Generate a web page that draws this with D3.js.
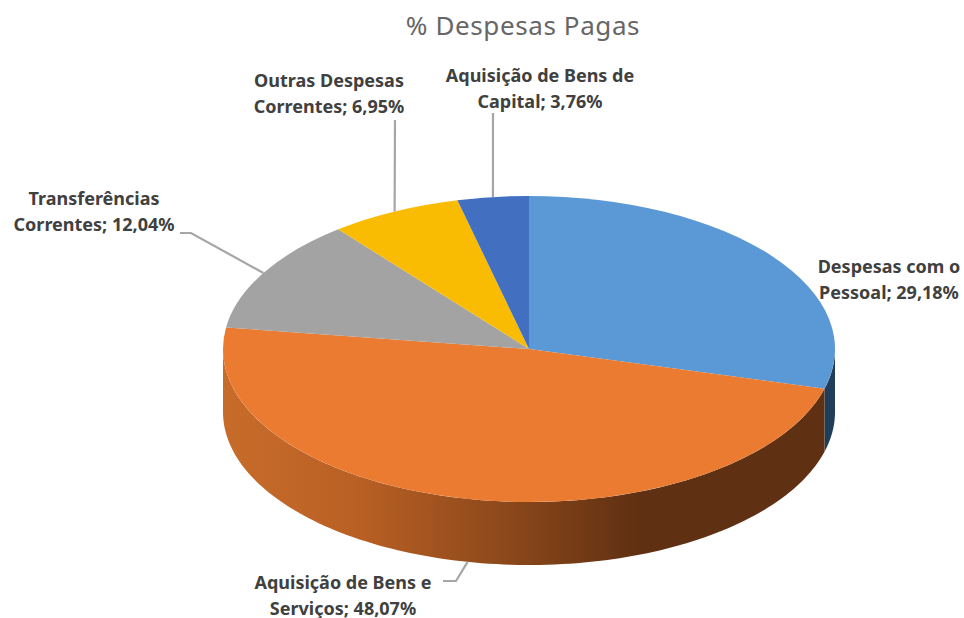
<!DOCTYPE html>
<html>
<head>
<meta charset="utf-8">
<script src="https://cdn.jsdelivr.net/npm/d3@7"></script>
<style>
  html, body { margin: 0; padding: 0; background: white; }
  svg { display: block; }
  .label { font-family: "Noto Sans", sans-serif; font-weight: 700; font-size: 18px; fill: #404040; }
  .title { font-family: "Noto Sans", sans-serif; font-size: 26px; fill: #666666; letter-spacing: 0.6px; }
</style>
</head>
<body>
<div id="my_dataviz"></div>
<script>
// data
var categories = ["Despesas com o Pessoal", "Aquisição de Bens e Serviços", "Transferências Correntes", "Outras Despesas Correntes", "Aquisição de Bens de Capital"];
var percents = [29.18, 48.07, 12.04, 6.95, 3.76];
var labelLines = [
  ["Despesas com o", "Pessoal; 29,18%"],
  ["Aquisição de Bens e", "Serviços; 48,07%"],
  ["Transferências", "Correntes; 12,04%"],
  ["Outras Despesas", "Correntes; 6,95%"],
  ["Aquisição de Bens de", "Capital; 3,76%"]
];
var colors = ["#5a99d5", "#ea7b30", "#a3a3a3", "#fabc02", "#426fbf"];

var width = 964, height = 618;
var cx = 529, cy = 349, rx = 306, ry = 153, depth = 63;

// where the labels sit, and the elbow of each leader (null = no leader)
var labelPos = [
  {x: 889, y: 273},
  {x: 343, y: 589},
  {x: 94, y: 205},
  {x: 329, y: 87},
  {x: 540, y: 82}
];
var leaders = [
  null,
  {elbow: [456, 581], end: [443, 581]},
  {elbow: [191, 233], end: [180, 233]},
  {elbow: [395, 120], end: null},
  {elbow: [493, 113], end: null}
];

var svg = d3.select("#my_dataviz")
  .append("svg")
    .attr("width", width)
    .attr("height", height);

var defs = svg.append("defs");

// shaded wall of the orange slice
var grad = defs.append("linearGradient")
    .attr("id", "wallOrange")
    .attr("gradientUnits", "userSpaceOnUse")
    .attr("x1", cx - rx).attr("x2", cx + rx)
    .attr("y1", 0).attr("y2", 0);
grad.append("stop").attr("offset", "0%").attr("stop-color", "#c76c2a");
grad.append("stop").attr("offset", "22%").attr("stop-color", "#b96024");
grad.append("stop").attr("offset", "50%").attr("stop-color", "#854419");
grad.append("stop").attr("offset", "68%").attr("stop-color", "#5f3012");
grad.append("stop").attr("offset", "100%").attr("stop-color", "#5f3012");

var color = d3.scaleOrdinal().domain(categories).range(colors);
var wallColor = {"Despesas com o Pessoal": "#203e5a", "Aquisição de Bens e Serviços": "url(#wallOrange)"};

var pieData = d3.pie().sort(null).value(function(d) { return d.value; })(
  categories.map(function(c, i) { return {name: c, value: percents[i]}; })
);

// angle -> point on the rim
function rimX(a) { return cx + rx * Math.sin(a); }
function rimY(a) { return cy - ry * Math.cos(a); }

// the walls, only the part that faces front (between 90 and 270 degrees)
var wall = d3.area()
  .x(function(a) { return rimX(a); })
  .y0(function(a) { return rimY(a); })
  .y1(function(a) { return rimY(a) + depth; });

pieData.forEach(function(s) {
  var a0 = Math.max(s.startAngle, Math.PI / 2);
  var a1 = Math.min(s.endAngle, Math.PI * 3 / 2);
  if (a1 <= a0) return;
  svg.append("path")
    .attr("d", wall(d3.range(0, 121).map(function(i) { return a0 + (a1 - a0) * i / 120; })))
    .attr("fill", wallColor[s.data.name]);
});

// top face: circle arcs squashed to an ellipse
var arc = d3.arc().innerRadius(0).outerRadius(rx);
svg.append("g")
    .attr("transform", "translate(" + cx + "," + cy + ") scale(1," + (ry / rx) + ")")
  .selectAll("path")
  .data(pieData)
  .enter()
  .append("path")
    .attr("d", arc)
    .attr("fill", function(d) { return color(d.data.name); });

// leader lines
var leaderLine = d3.line();
pieData.forEach(function(s, i) {
  if (!leaders[i]) return;
  var mid = (s.startAngle + s.endAngle) / 2;
  var drop = Math.cos(mid) < 0 ? depth : 0;
  var pts = [[rimX(mid), rimY(mid) + drop], leaders[i].elbow];
  if (leaders[i].end) pts.push(leaders[i].end);
  svg.append("path")
    .attr("d", leaderLine(pts))
    .attr("fill", "none")
    .attr("stroke", "#a6a6a6")
    .attr("stroke-width", 2.2);
});

// labels
pieData.forEach(function(s, i) {
  var t = svg.append("text")
    .attr("class", "label")
    .attr("text-anchor", "middle")
    .attr("x", labelPos[i].x)
    .attr("y", labelPos[i].y);
  labelLines[i].forEach(function(line, j) {
    t.append("tspan")
      .attr("x", labelPos[i].x)
      .attr("dy", j == 0 ? 0 : 25.5)
      .text(line);
  });
});

svg.append("text")
    .attr("class", "title")
    .attr("x", 523)
    .attr("y", 35)
    .attr("text-anchor", "middle")
    .text("% Despesas Pagas");
</script>
</body>
</html>
